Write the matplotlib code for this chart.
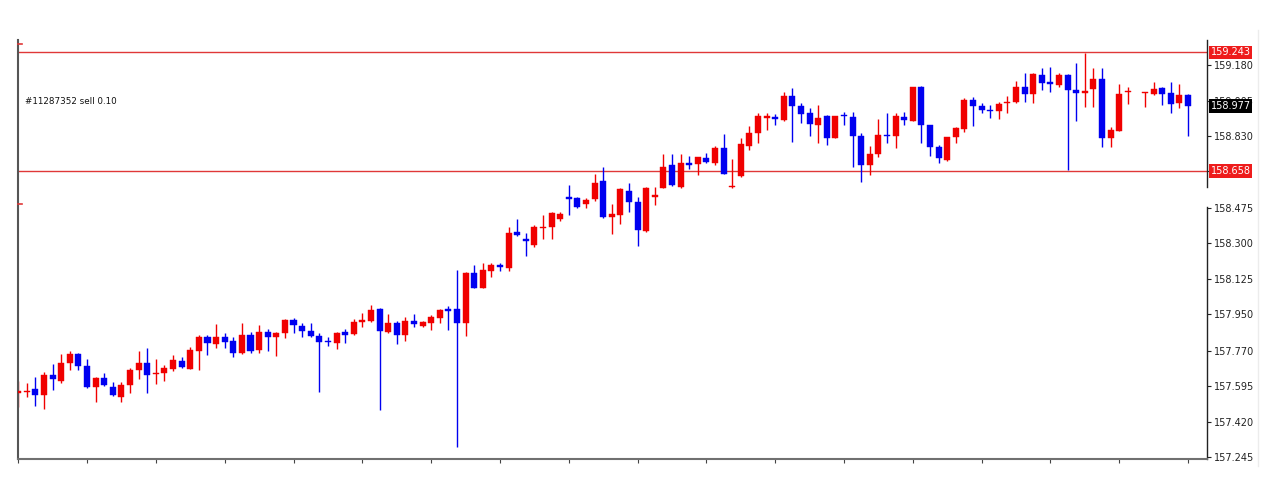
import numpy as np
import matplotlib
matplotlib.use("Agg")
import matplotlib.pyplot as plt
import matplotlib.transforms as mtransforms
from matplotlib.lines import Line2D

# OHLC (one entry per bar, None = no bar)
opens = [157.563, 157.566, 157.579, 157.553, 157.652, 157.622, 157.708, 157.754, 157.695, 157.589,
         157.635, 157.593, 157.543, 157.602, 157.675, 157.708, 157.653, 157.662, 157.678, 157.721,
         157.681, 157.770, 157.839, 157.803, 157.836, 157.816, 157.760, 157.848, 157.774, 157.864,
         157.836, 157.856, 157.922, 157.892, 157.869, 157.843, 157.816, 157.810, 157.861, 157.852,
         157.913, 157.918, 157.974, 157.864, 157.908, 157.848, 157.918, 157.892, 157.908, 157.930,
         157.974, 157.974, 157.905, 158.155, 158.078, 158.165, 158.191, 158.176, 158.357, 158.321,
         158.292, 158.377, 158.379, 158.418, 158.527, 158.522, 158.494, 158.517, 158.609, 158.431,
         158.440, 158.560, 158.506, 158.362, 158.527, 158.571, 158.687, 158.580, 158.695, 158.691,
         158.723, 158.698, 158.769, 158.578, 158.632, 158.780, 158.846, 158.920, 158.925, 158.909,
         159.027, 158.978, 158.945, 158.884, 158.929, 158.818, 158.935, 158.922, 158.830, 158.687,
         158.741, 158.835, 158.830, 158.925, 158.906, 159.070, 158.884, 158.777, 158.712, 158.823,
         158.863, 159.008, 158.978, 158.960, 158.955, 158.991, 159.000, 159.070, 159.037, 159.131,
         159.095, 159.082, 159.131, 159.057, 159.044, 159.060, 159.110, 158.818, 158.856, 159.045,
         None, 159.042, 159.037, 159.065, 159.044, 158.994, 159.032]
highs = [157.621, 157.609, 157.642, 157.667, 157.704, 157.754, 157.770, 157.760, 157.727, 157.642,
         157.658, 157.617, 157.617, 157.683, 157.770, 157.782, 157.731, 157.700, 157.749, 157.737,
         157.790, 157.848, 157.848, 157.902, 157.859, 157.836, 157.908, 157.864, 157.897, 157.876,
         157.864, 157.925, 157.930, 157.905, 157.905, 157.856, 157.836, 157.864, 157.876, 157.925,
         157.955, 157.996, 157.979, 157.951, 157.918, 157.935, 157.951, 157.918, 157.946, 157.974,
         157.990, 158.168, 158.160, 158.193, 158.201, 158.201, 158.204, 158.382, 158.418, 158.349,
         158.390, 158.440, 158.456, 158.456, 158.588, 158.530, 158.522, 158.642, 158.675, 158.494,
         158.571, 158.596, 158.527, 158.580, 158.580, 158.741, 158.741, 158.741, 158.731, 158.728,
         158.747, 158.780, 158.840, 158.714, 158.818, 158.879, 158.945, 158.945, 158.941, 159.048,
         159.065, 158.994, 158.966, 158.983, 158.934, 158.929, 158.950, 158.950, 158.846, 158.781,
         158.912, 158.942, 158.945, 158.950, 159.073, 159.077, 158.884, 158.786, 158.827, 158.873,
         159.016, 159.021, 158.994, 158.983, 159.000, 159.027, 159.103, 159.139, 159.139, 159.164,
         159.172, 159.139, 159.136, 159.189, 159.241, 159.164, 159.164, 158.876, 159.087, 159.073,
         None, 159.045, 159.098, 159.070, 159.098, 159.087, 159.037]
lows = [157.494, 157.543, 157.497, 157.481, 157.576, 157.612, 157.675, 157.675, 157.586, 157.514,
        157.596, 157.547, 157.517, 157.563, 157.629, 157.563, 157.606, 157.622, 157.672, 157.685,
        157.678, 157.675, 157.749, 157.782, 157.782, 157.741, 157.754, 157.757, 157.757, 157.770,
        157.744, 157.831, 157.856, 157.836, 157.836, 157.568, 157.793, 157.777, 157.810, 157.848,
        157.885, 157.913, 157.477, 157.859, 157.803, 157.820, 157.885, 157.885, 157.872, 157.908,
        157.872, 157.293, 157.842, 158.078, 158.078, 158.135, 158.165, 158.165, 158.338, 158.237,
        158.280, 158.319, 158.319, 158.412, 158.440, 158.473, 158.473, 158.510, 158.423, 158.346,
        158.395, 158.456, 158.287, 158.358, 158.489, 158.571, 158.583, 158.571, 158.665, 158.637,
        158.698, 158.687, 158.642, 158.571, 158.629, 158.761, 158.797, 158.859, 158.884, 158.905,
        158.802, 158.895, 158.830, 158.797, 158.785, 158.818, 158.884, 158.675, 158.605, 158.637,
        158.728, 158.794, 158.769, 158.884, 158.906, 158.797, 158.731, 158.695, 158.708, 158.797,
        158.851, 158.879, 158.942, 158.917, 158.912, 158.942, 158.994, 158.999, 158.994, 159.057,
        159.049, 159.070, 158.662, 158.906, 158.971, 158.971, 158.774, 158.777, 158.856, 158.988,
        None, 158.971, 159.032, 158.983, 158.945, 158.966, 158.830]
closes = [157.573, 157.571, 157.553, 157.652, 157.629, 157.711, 157.754, 157.695, 157.589, 157.635,
          157.601, 157.550, 157.602, 157.675, 157.711, 157.649, 157.657, 157.685, 157.724, 157.688,
          157.774, 157.839, 157.810, 157.839, 157.813, 157.760, 157.848, 157.770, 157.864, 157.836,
          157.859, 157.922, 157.895, 157.869, 157.843, 157.815, 157.813, 157.859, 157.849, 157.913,
          157.922, 157.971, 157.869, 157.908, 157.848, 157.918, 157.902, 157.912, 157.935, 157.971,
          157.967, 157.908, 158.155, 158.078, 158.168, 158.193, 158.181, 158.352, 158.341, 158.311,
          158.379, 158.380, 158.451, 158.444, 158.520, 158.481, 158.514, 158.599, 158.428, 158.444,
          158.566, 158.506, 158.366, 158.571, 158.538, 158.678, 158.588, 158.695, 158.688, 158.724,
          158.703, 158.769, 158.642, 158.583, 158.790, 158.846, 158.928, 158.928, 158.912, 159.027,
          158.978, 158.941, 158.889, 158.917, 158.818, 158.929, 158.929, 158.830, 158.687, 158.741,
          158.835, 158.828, 158.929, 158.909, 159.070, 158.884, 158.774, 158.720, 158.823, 158.868,
          159.008, 158.978, 158.958, 158.953, 158.986, 158.998, 159.070, 159.037, 159.136, 159.093,
          159.085, 159.131, 159.057, 159.044, 159.054, 159.110, 158.818, 158.860, 159.037, 159.050,
          None, 159.045, 159.063, 159.037, 158.988, 159.032, 158.978]

level_lines = [159.243, 158.658]
last_price = 158.977
ytick_values = [157.245, 157.420, 157.595, 157.770, 157.950, 158.125, 158.300,
                158.475, 158.655, 158.830, 159.005, 159.180]
hidden_ticks = [158.655]  # fully covered by the red level label
order_text = "#11287352 sell 0.10"
order_price = 158.998
arrow_marks = [159.284, 158.494]

UP = "#f00000"
DOWN = "#0000f0"
LEVEL = "#e03838"

W, H = 1274, 500
fig = plt.figure(figsize=(W / 100, H / 100), dpi=100)
ax = fig.add_axes([18 / W, 1 - 459 / H, (1207 - 18) / W, (459 - 40) / H])

o = np.array([np.nan if v is None else v for v in opens])
h = np.array([np.nan if v is None else v for v in highs])
l = np.array([np.nan if v is None else v for v in lows])
c = np.array([np.nan if v is None else v for v in closes])
idx = np.arange(len(o))
ok = ~np.isnan(o)
up = ok & (c >= o)
dn = ok & (c < o)

for mask, col in ((up, UP), (dn, DOWN)):
    ax.vlines(idx[mask], l[mask], h[mask], color=col, lw=1.0, zorder=2)
    bottom = np.minimum(o[mask], c[mask])
    height = np.maximum(np.abs(c[mask] - o[mask]), 0.006)
    ax.bar(idx[mask], height, bottom=bottom, width=0.7, color=col,
           edgecolor=col, linewidth=0.3, zorder=3)

for lv in level_lines:
    ax.axhline(lv, color=LEVEL, lw=1.0, zorder=1)

ax.set_xlim(-0.03, 138.2)
ax.set_ylim(157.235, 159.304)

# axes styling (MT4 look)
ax.yaxis.tick_right()
ax.set_yticks(ytick_values)
ax.set_yticklabels(["" if v in hidden_ticks else f"{v:.3f}" for v in ytick_values])
ax.tick_params(axis="y", direction="out", length=3, width=0.8, pad=2,
               labelsize=7, colors="#222222")
ax.set_xticks(np.arange(0, 137, 8))
ax.tick_params(axis="x", direction="out", length=3, width=0.8,
               labelbottom=False, colors="#444444")
ax.spines["top"].set_visible(False)
ax.spines["right"].set_visible(False)
ax.spines["left"].set_color("#555555")
ax.spines["left"].set_linewidth(1.5)
ax.spines["bottom"].set_color("#707070")
ax.spines["bottom"].set_linewidth(1.5)

# right axis line with its break under the lower level label
tr = mtransforms.blended_transform_factory(ax.transAxes, ax.transData)
ax.plot([1, 1], [159.304, 158.578], color="#222222", lw=1.0, transform=tr, clip_on=False)
ax.plot([1, 1], [158.479, 157.235], color="#222222", lw=1.0, transform=tr, clip_on=False)

# price labels on the right
for lv in level_lines:
    ax.text(1.003, lv, f"{lv:.3f}", transform=tr, fontsize=7, color="white",
            va="center", ha="left", zorder=10, clip_on=False,
            bbox=dict(boxstyle="square,pad=0.18", fc="#ee1c1c", ec="none"))
ax.text(1.003, last_price, f"{last_price:.3f}", transform=tr, fontsize=7, color="white",
        va="center", ha="left", zorder=10, clip_on=False,
        bbox=dict(boxstyle="square,pad=0.18", fc="black", ec="none"))

# small red marks on the left edge
for m in arrow_marks:
    ax.plot([-0.03, 0.45], [m, m], color=LEVEL, lw=1.2, clip_on=False, zorder=4)

ax.text(0.8, order_price, order_text, fontsize=6.3, color="#111111",
        ha="left", va="center")

fig.add_artist(Line2D([1258 / W, 1258 / W], [1 - 466 / H, 1 - 30 / H],
                      color="#ececec", lw=1.0))

fig.savefig("out.png", dpi=100, facecolor="white")
